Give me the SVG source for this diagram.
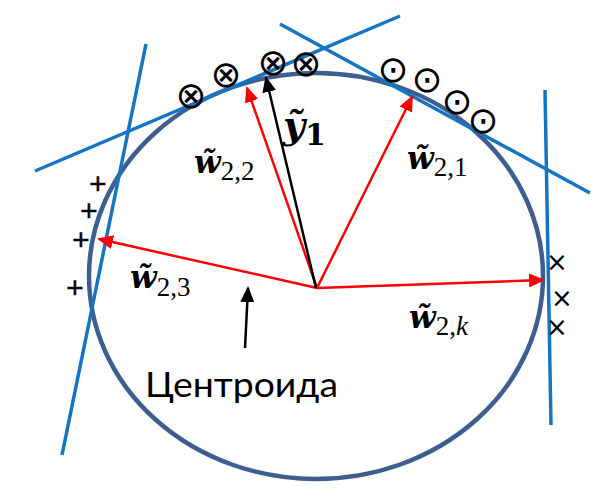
<svg xmlns="http://www.w3.org/2000/svg" width="612" height="493" viewBox="0 0 612 493">
<style>
.tan{stroke:#1774C0;stroke-width:3.5;fill:none;stroke-linecap:butt}
.red{stroke:#FF0000;stroke-width:2.5;fill:none}
.blk{stroke:#000;stroke-width:2.5;fill:none}
.sym{font-family:"DejaVu Sans",sans-serif;fill:#000;text-anchor:middle;dominant-baseline:central}
.lab{fill:#000}
.w{font-family:"DejaVu Serif",serif;font-weight:bold;font-style:italic;font-size:31px}
.sub{font-family:"Liberation Serif",serif;font-size:27px;font-weight:normal;font-style:normal}
.lbl{font-family:Lato,"Liberation Sans",sans-serif;font-size:34px;fill:#000}
</style>
<defs>
<marker id="ar" viewBox="0 0 16 14" refX="14" refY="7" markerWidth="16" markerHeight="14" markerUnits="userSpaceOnUse" orient="auto"><path d="M0,0 L16,7 L0,14 z" fill="#FF0000"/></marker>
<marker id="ab" viewBox="0 0 16 14" refX="14" refY="7" markerWidth="16" markerHeight="14" markerUnits="userSpaceOnUse" orient="auto"><path d="M0,0 L16,7 L0,14 z" fill="#000"/></marker>
</defs>
<g id="centroid-circle"><ellipse cx="316" cy="276" rx="227" ry="203" fill="none" stroke="#3D5E8E" stroke-width="4.5"/></g>
<g id="tangents">
<line class="tan" x1="35" y1="171" x2="400" y2="16"/>
<line class="tan" x1="280" y1="24" x2="590" y2="193"/>
<line class="tan" x1="146" y1="44" x2="62" y2="455"/>
<line class="tan" x1="545" y1="90" x2="551" y2="425"/>
</g>
<g id="connectors">
<line class="red" x1="317" y1="288" x2="412" y2="97" marker-end="url(#ar)"/>
<line class="red" x1="317" y1="288" x2="247" y2="88" marker-end="url(#ar)"/>
<line class="red" x1="317" y1="288" x2="99" y2="239" marker-end="url(#ar)"/>
<line class="red" x1="317" y1="288" x2="543" y2="280" marker-end="url(#ar)"/>
<line class="blk" x1="316" y1="288" x2="266" y2="78" marker-end="url(#ab)"/>
<line class="blk" x1="245" y1="348" x2="248" y2="288" marker-end="url(#ab)"/>
</g>
<g id="cluster-otimes"><text class="sym" font-size="37"><tspan x="191" y="95">⊗</tspan><tspan x="226" y="74">⊗</tspan><tspan x="273" y="62">⊗</tspan><tspan x="306" y="63">⊗</tspan></text></g>
<g id="cluster-odot"><text class="sym" font-size="37"><tspan x="393" y="69">⊙</tspan><tspan x="427" y="79">⊙</tspan><tspan x="457" y="101">⊙</tspan><tspan x="483" y="120">⊙</tspan></text></g>
<g id="cluster-plus"><text class="sym" font-size="23" stroke="#000" stroke-width="0.6"><tspan x="98" y="183">+</tspan><tspan x="89" y="210">+</tspan><tspan x="81" y="239">+</tspan><tspan x="75" y="287">+</tspan></text></g>
<g id="cluster-times"><text class="sym" font-size="26"><tspan x="557" y="262">×</tspan><tspan x="562" y="298">×</tspan><tspan x="557" y="327">×</tspan></text></g>
<g id="label-w21"><text class="lab" x="407" y="169"><tspan class="w">w̃</tspan><tspan class="sub" dy="7">2,1</tspan></text></g>
<g id="label-w22"><text class="lab" x="194" y="173"><tspan class="w">w̃</tspan><tspan class="sub" dy="7">2,2</tspan></text></g>
<g id="label-w23"><text class="lab" x="130" y="288"><tspan class="w">w̃</tspan><tspan class="sub" dy="8">2,3</tspan></text></g>
<g id="label-w2k"><text class="lab" x="409" y="328"><tspan class="w">w̃</tspan><tspan class="sub" dy="7">2,<tspan font-style="italic">k</tspan></tspan></text></g>
<g id="label-y1"><text class="lab" x="283" y="138"><tspan class="w" style="font-size:38px">ỹ</tspan><tspan class="w" style="font-style:normal;font-size:30px" dy="7">1</tspan></text></g>
<g id="label-centroid"><text class="lbl" x="145" y="397" textLength="193" lengthAdjust="spacingAndGlyphs">Центроида</text></g>
</svg>
